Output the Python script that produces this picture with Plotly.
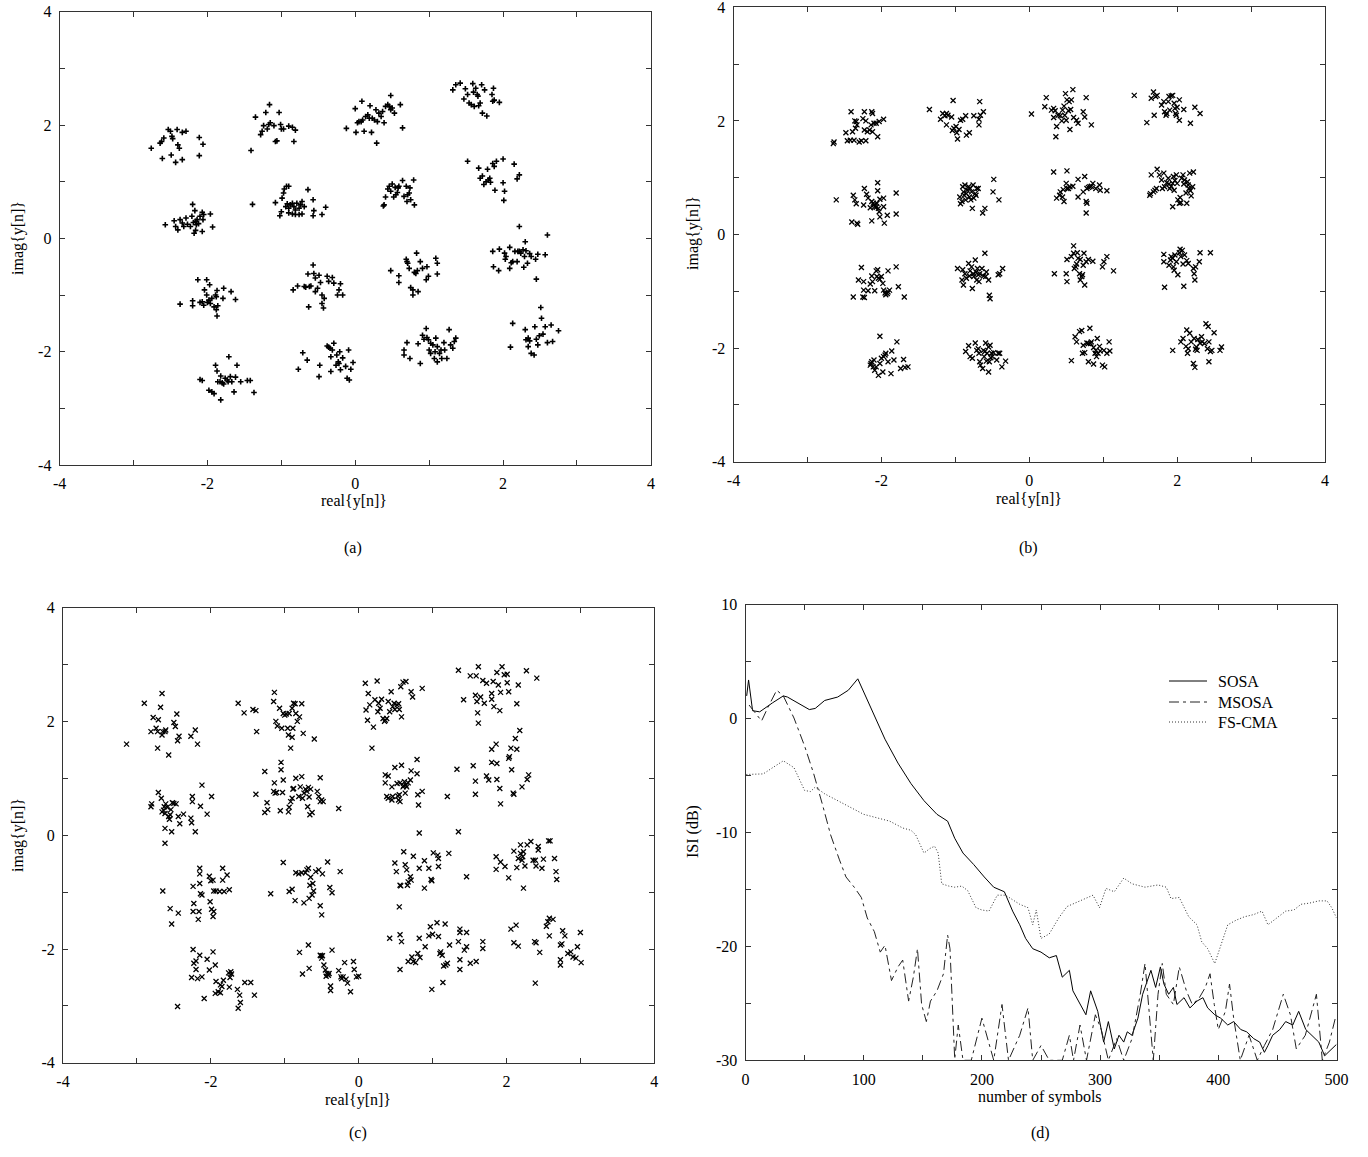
import plotly.graph_objects as go

# ---------------- data ----------------
# panel (a): received constellation points (real, imag)
a_points = [
    (-2.76,1.59),(-2.62,1.71),(-2.59,1.77),(-2.53,1.92),(-2.50,1.89),(-2.48,1.80),(-2.47,1.76),(-2.41,1.92),(-2.40,1.65),(-2.38,1.59),(-2.34,1.87),(-2.29,1.89),(-2.11,1.78),(-2.06,1.66),(-2.11,1.46),(-2.61,1.41),(-2.49,1.47),(-2.43,1.34),(-2.34,1.39),(-2.64,1.68),
    (-1.41,1.55),(-1.35,2.14),(-1.21,2.22),(-1.16,2.36),(-1.03,2.22),(-1.28,1.83),(-1.26,1.89),(-1.24,1.99),(-1.19,1.93),(-1.17,2.01),(-1.15,2.04),(-1.10,1.99),(-1.08,1.71),(-1.06,1.72),(-1.01,2.01),(-1.00,1.93),(-0.97,1.93),(-0.90,1.98),(-0.85,1.96),(-0.83,1.71),(-0.81,1.91),
    (-2.57,0.24),(-2.45,0.31),(-2.43,0.21),(-2.40,0.15),(-2.37,0.33),(-2.34,0.27),(-2.32,0.21),(-2.29,0.36),(-2.27,0.25),(-2.23,0.21),(-2.21,0.39),(-2.20,0.60),(-2.19,0.28),(-2.17,0.49),(-2.16,0.30),(-2.15,0.24),(-2.14,0.33),(-2.12,0.26),(-2.10,0.39),(-2.07,0.46),(-2.06,0.33),(-2.05,0.42),(-1.96,0.43),(-1.93,0.20),(-2.07,0.12),(-2.18,0.09),(-2.16,0.14),
    (-1.39,0.60),(-1.08,0.63),(-1.02,0.40),(-1.00,0.47),(-0.99,0.71),(-0.97,0.80),(-0.96,0.87),(-0.93,0.92),(-0.90,0.92),(-0.94,0.56),(-0.92,0.61),(-0.90,0.53),(-0.88,0.59),(-0.85,0.62),(-0.83,0.56),(-0.81,0.50),(-0.79,0.62),(-0.76,0.53),(-0.74,0.59),(-0.72,0.65),(-0.69,0.56),(-0.72,0.43),(-0.76,0.42),(-0.81,0.42),(-0.85,0.43),(-0.90,0.45),(-0.64,0.86),(-0.57,0.68),(-0.56,0.49),(-0.57,0.40),(-0.45,0.42),(-0.40,0.55),
    (-2.37,-1.16),(-2.20,-1.10),(-2.20,-1.19),(-2.13,-0.73),(-2.10,-1.13),(-2.07,-1.12),(-2.05,-1.18),(-2.04,-0.91),(-2.01,-1.00),(-2.01,-0.73),(-2.00,-1.13),(-1.98,-1.09),(-1.97,-0.82),(-1.96,-1.15),(-1.94,-1.06),(-1.91,-1.21),(-1.89,-1.00),(-1.88,-1.03),(-1.87,-0.92),(-1.87,-1.37),(-1.86,-1.19),(-1.88,-1.26),(-1.79,-1.06),(-1.78,-0.88),(-1.68,-0.94),(-1.62,-1.08),
    (-0.84,-0.91),(-0.78,-0.84),(-0.69,-0.85),(-0.67,-0.86),(-0.64,-0.63),(-0.62,-0.85),(-0.60,-0.84),(-0.57,-0.47),(-0.56,-0.62),(-0.54,-0.70),(-0.54,-0.94),(-0.51,-0.88),(-0.49,-0.65),(-0.47,-0.78),(-0.45,-1.00),(-0.45,-1.15),(-0.43,-1.23),(-0.42,-1.06),(-0.38,-0.67),(-0.36,-0.76),(-0.31,-0.69),(-0.29,-0.79),(-0.22,-0.91),(-0.20,-0.80),(-0.17,-1.00),(-0.24,-1.00),(-0.63,-1.21),
    (-2.10,-2.49),(-2.07,-2.51),(-1.98,-2.68),(-1.94,-2.71),(-1.91,-2.74),(-1.89,-2.24),(-1.87,-2.34),(-1.86,-2.53),(-1.83,-2.53),(-1.82,-2.85),(-1.82,-2.43),(-1.80,-2.55),(-1.78,-2.57),(-1.76,-2.47),(-1.73,-2.50),(-1.72,-2.53),(-1.71,-2.09),(-1.69,-2.44),(-1.67,-2.53),(-1.64,-2.71),(-1.62,-2.45),(-1.60,-2.24),(-1.55,-2.53),(-1.46,-2.51),(-1.42,-2.51),(-1.37,-2.72),
    (-0.77,-2.31),(-0.71,-2.02),(-0.65,-2.15),(-0.49,-2.44),(-0.48,-2.24),(-0.38,-1.90),(-0.36,-1.92),(-0.34,-1.94),(-0.33,-2.09),(-0.31,-1.97),(-0.29,-1.85),(-0.26,-2.24),(-0.25,-2.06),(-0.23,-2.18),(-0.22,-2.21),(-0.21,-2.00),(-0.20,-2.32),(-0.17,-2.11),(-0.13,-2.26),(-0.11,-2.47),(-0.08,-2.50),(-0.09,-1.97),(-0.06,-2.31),(-0.03,-2.19),(-0.33,-2.35),
    (-0.12,1.94),(0.00,2.29),(0.01,1.87),(0.03,2.04),(0.05,2.06),(0.08,2.06),(0.09,2.42),(0.10,2.09),(0.12,1.89),(0.14,2.15),(0.17,2.18),(0.19,2.12),(0.20,2.34),(0.22,1.87),(0.23,2.12),(0.26,2.09),(0.28,2.27),(0.29,1.68),(0.30,2.06),(0.32,2.21),(0.35,2.15),(0.37,2.24),(0.39,2.04),(0.41,2.33),(0.44,2.36),(0.46,2.33),(0.48,2.52),(0.48,2.27),(0.50,2.30),(0.53,2.21),(0.61,2.36),(0.64,1.95),
    (1.32,2.62),(1.36,2.71),(1.42,2.74),(1.47,2.46),(1.49,2.64),(1.52,2.54),(1.54,2.39),(1.57,2.36),(1.59,2.73),(1.60,2.58),(1.61,2.33),(1.63,2.65),(1.65,2.54),(1.66,2.51),(1.67,2.34),(1.69,2.39),(1.71,2.71),(1.72,2.21),(1.75,2.62),(1.78,2.16),(1.85,2.54),(1.87,2.65),(1.86,2.42),(1.88,2.44),(1.95,2.40),
    (0.38,0.57),(0.39,0.59),(0.41,0.73),(0.44,0.87),(0.46,0.92),(0.48,0.83),(0.50,0.96),(0.52,0.73),(0.54,0.90),(0.55,0.77),(0.57,0.81),(0.58,0.89),(0.59,0.92),(0.64,1.02),(0.66,0.74),(0.69,0.92),(0.70,0.65),(0.71,0.77),(0.73,0.80),(0.74,0.89),(0.75,0.68),(0.79,1.03),(0.80,0.59),
    (1.52,1.36),(1.67,1.24),(1.69,1.06),(1.72,1.10),(1.74,0.95),(1.77,1.00),(1.79,1.22),(1.80,1.03),(1.82,1.06),(1.83,0.99),(1.86,1.32),(1.88,1.27),(1.89,0.85),(1.91,1.36),(2.00,1.40),(2.00,0.98),(2.02,0.83),(2.01,0.67),(2.15,1.31),(2.19,1.05),(2.22,1.12),
    (0.48,-0.57),(0.59,-0.66),(0.59,-0.78),(0.69,-0.37),(0.70,-0.41),(0.71,-0.44),(0.73,-0.53),(0.75,-0.87),(0.78,-0.91),(0.78,-1.00),(0.80,-0.60),(0.82,-0.62),(0.83,-0.26),(0.84,-0.57),(0.85,-0.94),(0.88,-0.41),(0.91,-0.53),(0.96,-0.73),(0.97,-0.50),(0.99,-0.67),(1.09,-0.35),(1.11,-0.44),(1.11,-0.63),
    (1.86,-0.23),(1.87,-0.50),(1.94,-0.57),(1.95,-0.19),(2.02,-0.26),(2.03,-0.37),(2.04,-0.32),(2.09,-0.16),(2.09,-0.53),(2.11,-0.43),(2.13,-0.41),(2.16,-0.23),(2.19,-0.41),(2.20,-0.23),(2.22,0.21),(2.22,-0.23),(2.24,-0.26),(2.27,-0.20),(2.28,-0.51),(2.29,-0.32),(2.30,-0.06),(2.31,-0.22),(2.33,-0.44),(2.36,-0.27),(2.38,-0.32),(2.44,-0.37),(2.45,-0.72),(2.47,-0.28),(2.57,-0.29),(2.60,0.06),
    (0.66,-1.97),(0.66,-2.06),(0.70,-1.84),(0.74,-2.12),(0.85,-1.86),(0.88,-2.21),(0.91,-1.71),(0.93,-1.78),(0.96,-1.59),(0.97,-1.75),(0.99,-1.79),(1.00,-1.97),(1.02,-1.85),(1.02,-2.03),(1.05,-1.88),(1.07,-2.12),(1.08,-2.00),(1.09,-1.76),(1.11,-2.18),(1.11,-1.91),(1.14,-2.03),(1.16,-1.97),(1.17,-2.12),(1.20,-1.84),(1.21,-1.97),(1.24,-2.12),(1.27,-1.61),(1.29,-1.88),(1.32,-1.94),(1.34,-1.82),(1.36,-1.76),
    (2.10,-1.92),(2.13,-1.50),(2.30,-1.61),(2.31,-1.79),(2.34,-1.76),(2.34,-1.91),(2.36,-1.81),(2.38,-2.03),(2.42,-2.06),(2.43,-1.56),(2.45,-1.78),(2.47,-1.88),(2.49,-1.72),(2.51,-1.22),(2.52,-1.41),(2.54,-1.69),(2.57,-1.56),(2.60,-1.84),(2.65,-1.53),(2.67,-1.82),(2.75,-1.63),
]

# panel (b)
b_points = [
    (-2.65,1.60),(-2.64,1.63),(-2.48,1.79),(-2.46,1.65),(-2.42,1.66),(-2.41,2.16),(-2.39,1.81),(-2.37,1.66),(-2.36,2.00),(-2.35,1.87),(-2.34,1.99),(-2.33,1.93),(-2.30,1.63),(-2.27,1.65),(-2.25,2.04),(-2.23,1.84),(-2.23,2.16),(-2.21,1.65),(-2.21,2.00),(-2.19,1.81),(-2.16,1.84),(-2.14,1.93),(-2.13,2.16),(-2.12,2.13),(-2.12,1.81),(-2.10,1.96),(-2.07,1.96),(-2.05,1.72),(-2.03,1.99),(-1.97,2.03),
    (-1.35,2.20),(-1.20,2.03),(-1.17,2.13),(-1.14,2.09),(-1.12,2.13),(-1.10,2.10),(-1.05,2.07),(-1.12,1.93),(-1.04,1.83),(-1.02,1.87),(-0.99,1.90),(-0.98,1.79),(-0.97,1.68),(-0.95,1.85),(-0.93,2.01),(-0.90,2.03),(-0.86,2.09),(-0.85,1.75),(-0.81,1.79),(-1.03,2.36),(-0.75,2.09),(-0.68,1.93),(-0.68,2.03),(-0.66,2.10),(-0.62,2.16),(-0.67,2.34),
    (-2.61,0.61),(-2.40,0.22),(-2.38,0.69),(-2.36,0.61),(-2.34,0.54),(-2.33,0.20),(-2.32,0.18),(-2.24,0.52),(-2.23,0.81),(-2.20,0.71),(-2.18,0.64),(-2.15,0.47),(-2.13,0.58),(-2.11,0.55),(-2.10,0.52),(-2.09,0.49),(-2.07,0.48),(-2.06,0.55),(-2.05,0.77),(-2.05,0.91),(-2.04,0.46),(-2.03,0.40),(-2.02,0.31),(-2.02,0.62),(-1.97,0.49),(-1.97,0.64),(-1.96,0.20),(-1.92,0.34),(-1.80,0.73),(-1.80,0.36),(-2.13,0.24),
    (-0.94,0.66),(-0.93,0.54),(-0.91,0.58),(-0.90,0.84),(-0.89,0.75),(-0.88,0.69),(-0.87,0.87),(-0.86,0.61),(-0.85,0.72),(-0.84,0.78),(-0.82,0.84),(-0.81,0.66),(-0.80,0.81),(-0.79,0.61),(-0.78,0.75),(-0.77,0.46),(-0.76,0.87),(-0.75,0.64),(-0.73,0.72),(-0.72,0.69),(-0.71,0.81),(-0.69,0.81),(-0.63,0.38),(-0.60,0.46),(-0.49,0.75),(-0.48,0.97),(-0.41,0.61),
    (-2.38,-1.10),(-2.31,-0.80),(-2.27,-0.58),(-2.25,-1.10),(-2.24,-0.98),(-2.23,-1.11),(-2.18,-0.99),(-2.15,-0.87),(-2.13,-0.73),(-2.12,-0.83),(-2.09,-0.99),(-2.07,-0.64),(-2.06,-0.74),(-2.05,-0.62),(-2.04,-0.77),(-2.02,-0.79),(-2.00,-0.74),(-1.98,-0.86),(-1.97,-0.98),(-1.95,-1.03),(-1.94,-1.06),(-1.92,-1.04),(-1.91,-1.01),(-1.91,-0.64),(-1.89,-0.98),(-1.80,-0.57),(-1.77,-0.92),(-1.69,-1.10),(-2.24,-0.83),
    (-0.97,-0.60),(-0.91,-0.80),(-0.90,-0.62),(-0.89,-0.89),(-0.87,-0.69),(-0.85,-0.77),(-0.82,-0.51),(-0.81,-0.73),(-0.80,-0.64),(-0.78,-0.57),(-0.77,-0.95),(-0.76,-0.69),(-0.75,-0.74),(-0.73,-0.45),(-0.72,-0.66),(-0.71,-0.80),(-0.70,-0.60),(-0.69,-0.71),(-0.68,-0.83),(-0.67,-0.69),(-0.64,-0.60),(-0.62,-0.73),(-0.60,-0.33),(-0.59,-0.74),(-0.58,-0.66),(-0.55,-0.80),(-0.54,-1.07),(-0.53,-1.13),(-0.42,-0.71),(-0.40,-0.69),(-0.36,-0.60),
    (-2.15,-2.30),(-2.14,-2.27),(-2.13,-2.24),(-2.11,-2.33),(-2.10,-2.21),(-2.09,-2.39),(-2.07,-2.33),(-2.04,-2.48),(-2.02,-1.79),(-2.02,-2.27),(-2.00,-2.18),(-1.98,-2.42),(-1.97,-2.15),(-1.95,-2.12),(-1.94,-2.09),(-1.91,-2.24),(-1.87,-2.45),(-1.86,-2.05),(-1.83,-2.21),(-1.79,-1.89),(-1.74,-2.36),(-1.70,-2.20),(-1.68,-2.34),(-1.64,-2.33),
    (-0.86,-2.06),(-0.82,-1.96),(-0.80,-2.15),(-0.77,-2.18),(-0.73,-1.91),(-0.71,-2.04),(-0.69,-2.01),(-0.68,-2.09),(-0.67,-2.24),(-0.66,-2.30),(-0.63,-2.36),(-0.62,-2.04),(-0.61,-2.15),(-0.60,-2.06),(-0.59,-1.91),(-0.58,-2.23),(-0.57,-2.09),(-0.55,-2.42),(-0.55,-1.98),(-0.54,-2.24),(-0.53,-1.95),(-0.52,-2.17),(-0.51,-2.09),(-0.50,-2.15),(-0.48,-2.08),(-0.44,-2.21),(-0.42,-2.09),(-0.40,-2.09),(-0.37,-2.33),(-0.32,-2.23),
    (0.03,2.12),(0.21,2.25),(0.23,2.41),(0.30,2.19),(0.33,2.22),(0.33,2.06),(0.35,2.18),(0.37,1.90),(0.36,1.72),(0.39,2.10),(0.42,2.09),(0.44,2.00),(0.45,2.19),(0.47,2.26),(0.48,2.10),(0.49,2.48),(0.50,2.01),(0.51,2.37),(0.53,2.18),(0.54,2.34),(0.55,1.85),(0.56,2.20),(0.57,2.37),(0.59,2.55),(0.60,2.06),(0.64,2.01),(0.66,1.96),(0.73,2.16),(0.75,2.07),(0.77,2.41),(0.84,1.93),
    (1.42,2.45),(1.59,1.97),(1.65,2.40),(1.68,2.51),(1.69,2.10),(1.71,2.43),(1.73,2.45),(1.79,2.28),(1.82,2.34),(1.83,2.16),(1.85,2.10),(1.86,2.13),(1.88,2.34),(1.89,2.43),(1.90,2.19),(1.92,2.44),(1.94,2.45),(1.96,2.31),(1.97,2.22),(1.98,2.13),(1.99,2.10),(2.00,2.24),(2.03,2.37),(2.03,2.01),(2.09,2.20),(2.18,1.96),(2.24,2.24),(2.31,2.13),
    (0.33,1.10),(0.37,0.64),(0.41,0.69),(0.42,0.75),(0.45,0.66),(0.46,0.79),(0.47,0.58),(0.50,0.90),(0.51,0.81),(0.53,0.81),(0.55,0.84),(0.59,0.85),(0.66,0.97),(0.66,0.66),(0.73,0.75),(0.75,1.02),(0.77,0.58),(0.78,0.81),(0.78,0.55),(0.80,0.83),(0.82,0.84),(0.84,0.85),(0.86,0.90),(0.90,0.81),(0.95,0.87),(0.96,0.78),(1.05,0.77),(0.77,0.38),(0.51,1.12),
    (1.63,0.69),(1.64,0.72),(1.65,1.05),(1.68,0.75),(1.70,0.78),(1.72,0.81),(1.73,1.15),(1.76,1.05),(1.79,0.96),(1.80,0.81),(1.82,1.08),(1.83,0.84),(1.86,0.91),(1.88,0.99),(1.89,0.89),(1.90,0.81),(1.92,0.85),(1.94,0.90),(1.95,1.02),(1.96,0.78),(1.97,0.95),(1.99,1.05),(2.00,0.90),(2.01,0.61),(2.03,0.55),(2.04,0.65),(2.05,0.56),(2.06,0.99),(2.08,1.05),(2.09,0.89),(2.10,0.96),(2.12,0.73),(2.14,0.93),(2.15,0.87),(2.16,0.81),(2.17,1.08),(2.18,0.77),(2.19,0.68),(2.21,0.84),(2.22,1.10),(1.94,0.49),(2.13,0.55),
    (0.34,-0.69),(0.50,-0.69),(0.51,-0.44),(0.51,-0.83),(0.57,-0.39),(0.60,-0.33),(0.60,-0.20),(0.61,-0.60),(0.63,-0.57),(0.64,-0.52),(0.65,-0.32),(0.66,-0.42),(0.68,-0.69),(0.69,-0.80),(0.69,-0.44),(0.71,-0.74),(0.72,-0.71),(0.73,-0.54),(0.74,-0.33),(0.75,-0.89),(0.77,-0.48),(0.80,-0.44),(0.86,-0.47),(0.99,-0.57),(1.01,-0.48),(1.05,-0.39),(1.14,-0.64),
    (1.82,-0.35),(1.82,-0.48),(1.83,-0.93),(1.89,-0.54),(1.91,-0.45),(1.92,-0.39),(1.94,-0.42),(1.95,-0.57),(1.96,-0.63),(1.97,-0.36),(1.99,-0.48),(2.01,-0.71),(2.03,-0.32),(2.04,-0.26),(2.05,-0.39),(2.07,-0.28),(2.08,-0.52),(2.09,-0.91),(2.10,-0.36),(2.13,-0.46),(2.15,-0.51),(2.22,-0.60),(2.23,-0.69),(2.24,-0.80),(2.25,-0.57),(2.30,-0.48),(2.31,-0.32),(2.45,-0.32),
    (0.57,-2.22),(0.62,-1.80),(0.64,-1.89),(0.68,-1.71),(0.71,-1.69),(0.72,-2.09),(0.73,-1.95),(0.75,-2.08),(0.78,-1.91),(0.80,-1.92),(0.82,-1.65),(0.83,-1.92),(0.84,-1.89),(0.87,-1.99),(0.89,-2.09),(0.90,-2.04),(0.91,-2.15),(0.92,-1.83),(0.93,-2.09),(0.95,-1.97),(0.96,-2.05),(0.99,-2.30),(1.01,-2.04),(1.02,-2.33),(1.05,-2.09),(1.08,-1.89),(1.09,-2.05),(0.80,-2.24),(0.87,-2.28),
    (1.94,-2.04),(2.05,-1.89),(2.08,-1.83),(2.12,-1.97),(2.13,-1.68),(2.14,-2.09),(2.15,-2.01),(2.17,-1.74),(2.19,-1.89),(2.22,-2.27),(2.23,-1.83),(2.24,-2.34),(2.25,-2.02),(2.26,-1.98),(2.27,-2.04),(2.28,-1.85),(2.31,-1.91),(2.33,-1.80),(2.34,-1.89),(2.37,-1.92),(2.39,-1.57),(2.41,-2.01),(2.42,-1.62),(2.43,-1.89),(2.45,-2.06),(2.47,-2.04),(2.50,-1.73),(2.43,-2.24),(2.58,-2.04),(2.60,-1.98),
]

# panel (c)
c_points = [
    (-3.14,1.60),(-2.90,2.32),(-2.78,2.07),(-2.74,1.88),(-2.72,1.82),(-2.71,2.03),(-2.68,2.25),(-2.66,2.49),(-2.66,1.76),(-2.65,1.82),(-2.62,1.82),(-2.61,1.85),(-2.57,1.41),(-2.72,1.53),(-2.50,1.98),(-2.48,1.91),(-2.46,2.13),(-2.45,1.66),(-2.43,1.74),(-2.81,1.82),(-2.27,1.74),(-2.21,1.85),(-2.18,1.60),
    (-1.63,2.32),(-1.55,2.15),(-1.43,2.21),(-1.39,2.19),(-1.38,1.82),(-1.15,2.35),(-1.14,2.51),(-1.12,2.00),(-1.10,1.92),(-1.07,2.23),(-1.04,1.88),(-1.02,2.14),(-1.00,2.11),(-0.98,2.13),(-0.96,1.88),(-0.95,1.76),(-0.94,2.14),(-0.90,2.23),(-0.90,1.72),(-0.89,1.88),(-0.88,2.32),(-0.86,2.31),(-0.85,2.14),(-0.83,2.00),(-0.80,2.08),(-0.77,2.31),(-0.75,1.79),(-0.60,1.69),(-0.92,1.53),
    (-2.81,0.50),(-2.80,0.55),(-2.71,0.75),(-2.67,0.65),(-2.66,0.41),(-2.64,0.44),(-2.63,0.50),(-2.62,0.12),(-2.62,0.38),(-2.61,0.55),(-2.59,0.49),(-2.57,0.33),(-2.56,0.28),(-2.55,0.36),(-2.54,0.45),(-2.53,0.06),(-2.52,0.57),(-2.50,0.56),(-2.47,0.55),(-2.44,0.33),(-2.42,0.20),(-2.37,0.37),(-2.27,0.30),(-2.26,0.22),(-2.25,0.68),(-2.25,0.59),(-2.21,0.06),(-2.14,0.51),(-2.12,0.88),(-2.05,0.37),(-1.99,0.68),(-2.62,-0.14),
    (-1.39,0.72),(-1.27,1.12),(-1.24,0.57),(-1.27,0.40),(-1.23,0.45),(-1.15,0.77),(-1.14,0.92),(-1.13,0.74),(-1.11,0.75),(-1.06,0.43),(-1.05,1.28),(-1.05,1.15),(-1.03,0.75),(-1.02,0.97),(-0.95,0.41),(-0.94,0.49),(-0.92,0.59),(-0.90,0.65),(-0.89,0.81),(-0.88,0.82),(-0.85,1.00),(-0.81,0.68),(-0.79,0.85),(-0.77,1.03),(-0.76,0.65),(-0.74,0.74),(-0.72,0.81),(-0.70,0.77),(-0.69,0.50),(-0.68,0.84),(-0.67,0.67),(-0.66,0.36),(-0.65,0.81),(-0.63,0.40),(-0.56,0.77),(-0.54,0.68),(-0.52,0.59),(-0.50,0.62),(-0.48,0.59),(-0.52,1.01),(-0.27,0.47),
    (-2.65,-0.98),(-2.55,-1.29),(-2.53,-1.56),(-2.44,-1.37),(-2.24,-0.90),(-2.24,-1.34),(-2.23,-1.20),(-2.17,-1.48),(-2.16,-1.34),(-2.15,-0.58),(-2.15,-0.68),(-2.15,-0.85),(-2.14,-1.03),(-2.12,-1.05),(-2.02,-0.72),(-2.01,-1.17),(-2.00,-0.80),(-1.99,-1.30),(-1.97,-0.79),(-1.97,-1.43),(-1.96,-1.34),(-1.96,-0.98),(-1.93,-0.98),(-1.88,-0.99),(-1.84,-0.58),(-1.84,-0.79),(-1.82,-0.99),(-1.78,-0.70),(-1.75,-0.96),
    (-1.19,-1.03),(-1.02,-0.48),(-0.94,-0.99),(-0.90,-0.95),(-0.86,-1.15),(-0.85,-0.66),(-0.81,-0.68),(-0.77,-0.66),(-0.74,-1.19),(-0.72,-0.66),(-0.70,-0.61),(-0.68,-0.58),(-0.67,-1.11),(-0.66,-0.88),(-0.65,-0.74),(-0.63,-1.05),(-0.62,-0.85),(-0.61,-0.98),(-0.58,-0.64),(-0.54,-0.61),(-0.52,-1.24),(-0.49,-0.68),(-0.42,-0.47),(-0.39,-0.92),(-0.36,-1.01),(-0.25,-0.64),(-0.50,-1.40),
    (-2.45,-3.01),(-2.26,-2.50),(-2.24,-2.01),(-2.23,-2.25),(-2.20,-2.21),(-2.20,-2.36),(-2.18,-2.52),(-2.15,-2.11),(-2.12,-2.49),(-2.09,-2.87),(-2.05,-2.18),(-2.02,-2.37),(-1.97,-2.05),(-1.94,-2.28),(-1.93,-2.57),(-1.94,-2.78),(-1.90,-2.75),(-1.87,-2.77),(-1.87,-2.63),(-1.85,-2.66),(-1.83,-2.55),(-1.76,-2.42),(-1.75,-2.67),(-1.74,-2.50),(-1.73,-2.40),(-1.72,-2.44),(-1.64,-2.71),(-1.61,-2.81),(-1.60,-2.94),(-1.54,-2.59),(-1.46,-2.59),(-1.41,-2.81),(-1.63,-3.04),
    (-0.80,-2.06),(-0.76,-2.44),(-0.68,-1.93),(-0.67,-2.34),(-0.52,-2.11),(-0.51,-2.12),(-0.50,-2.16),(-0.49,-2.12),(-0.47,-2.28),(-0.45,-2.37),(-0.44,-2.48),(-0.43,-2.43),(-0.41,-2.46),(-0.40,-2.43),(-0.38,-2.65),(-0.38,-2.73),(-0.36,-2.02),(-0.27,-2.38),(-0.24,-2.49),(-0.23,-2.52),(-0.21,-2.49),(-0.19,-2.24),(-0.17,-2.53),(-0.15,-2.60),(-0.11,-2.75),(-0.07,-2.22),(-0.06,-2.36),(-0.03,-2.49),(0.00,-2.48),
    (0.09,2.67),(0.10,2.20),(0.12,2.02),(0.13,2.49),(0.15,2.29),(0.20,1.90),(0.22,2.38),(0.25,2.71),(0.26,2.17),(0.27,2.32),(0.29,2.23),(0.31,2.39),(0.33,2.05),(0.35,2.00),(0.36,2.02),(0.38,2.05),(0.40,2.35),(0.42,2.17),(0.44,2.52),(0.46,2.26),(0.48,2.32),(0.49,2.21),(0.52,2.29),(0.54,2.31),(0.55,2.21),(0.57,2.61),(0.58,2.08),(0.60,2.69),(0.64,2.70),(0.71,2.52),(0.73,2.43),(0.86,2.58),(0.18,1.53),
    (1.35,2.90),(1.42,2.38),(1.51,2.80),(1.58,2.46),(1.59,2.80),(1.60,2.35),(1.61,2.15),(1.62,2.96),(1.62,1.97),(1.65,2.43),(1.68,2.72),(1.70,2.32),(1.73,2.67),(1.80,2.49),(1.80,2.39),(1.82,2.70),(1.83,2.26),(1.87,2.86),(1.89,2.64),(1.91,2.19),(1.92,2.51),(1.94,2.96),(1.97,2.82),(2.01,2.83),(2.01,2.68),(2.03,2.52),(2.14,2.31),(2.16,2.64),(2.27,2.89),(2.41,2.76),
    (0.36,1.06),(0.36,0.92),(0.40,1.04),(0.45,0.85),(0.38,0.68),(0.40,0.65),(0.45,0.62),(0.46,0.68),(0.49,1.19),(0.52,0.91),(0.53,0.69),(0.54,0.62),(0.55,0.71),(0.56,0.92),(0.56,0.59),(0.58,1.23),(0.60,0.85),(0.61,0.87),(0.62,0.94),(0.63,0.74),(0.64,0.88),(0.65,0.85),(0.67,0.92),(0.70,0.97),(0.71,1.13),(0.79,1.33),(0.79,1.08),(0.80,0.71),(0.81,0.53),(0.86,0.77),(1.20,0.68),
    (1.33,1.16),(1.55,1.22),(1.58,0.95),(1.58,0.72),(1.73,1.04),(1.76,0.97),(1.80,1.51),(1.80,1.28),(1.86,1.60),(1.87,1.26),(1.87,0.98),(1.91,0.82),(2.03,1.35),(2.04,1.38),(2.06,1.53),(2.07,1.15),(2.09,0.74),(2.10,0.72),(2.12,1.70),(2.14,1.51),(2.18,1.84),(2.21,0.85),(2.28,0.98),(2.30,1.06),(1.92,0.55),
    (0.49,-0.49),(0.51,-0.64),(0.55,-1.26),(0.56,-0.88),(0.57,-0.89),(0.61,-0.29),(0.63,-0.52),(0.65,-0.61),(0.66,-0.88),(0.67,-0.82),(0.70,-0.73),(0.71,-0.79),(0.74,-0.37),(0.82,-0.58),(0.89,-0.45),(0.89,-0.93),(0.95,-0.58),(0.98,-0.78),(0.99,-0.80),(1.01,-0.31),(1.07,-0.35),(1.08,-0.41),(1.08,-0.55),(1.22,-0.32),(1.46,-0.73),(0.82,0.04),(1.35,0.06),
    (1.86,-0.38),(1.86,-0.60),(1.92,-0.47),(1.98,-0.55),(2.03,-0.75),(2.10,-0.28),(2.14,-0.57),(2.16,-0.41),(2.19,-0.17),(2.19,-0.32),(2.21,-0.44),(2.22,-0.38),(2.23,-0.29),(2.25,-0.54),(2.28,-0.17),(2.33,-0.11),(2.36,-0.44),(2.39,-0.44),(2.40,-0.54),(2.43,-0.20),(2.43,-0.26),(2.48,-0.58),(2.50,-0.42),(2.57,-0.10),(2.59,-0.10),(2.65,-0.41),(2.67,-0.64),(2.68,-0.78),(2.23,-0.93),
    (0.42,-1.81),(0.56,-1.75),(0.58,-1.87),(0.56,-2.36),(0.67,-2.22),(0.72,-2.14),(0.74,-2.22),(0.77,-2.24),(0.80,-2.08),(0.82,-1.81),(0.83,-2.15),(0.90,-1.96),(0.95,-1.77),(0.97,-1.61),(1.00,-1.74),(1.06,-1.54),(1.08,-1.78),(1.10,-2.08),(1.11,-2.05),(1.13,-2.11),(1.15,-2.30),(1.17,-1.56),(1.18,-2.28),(1.20,-2.25),(1.23,-1.93),(0.99,-2.71),(1.14,-2.59),(1.35,-1.87),(1.37,-1.65),(1.37,-1.71),(1.37,-2.19),(1.37,-2.36),(1.43,-2.02),(1.46,-1.71),(1.46,-1.96),(1.51,-2.25),(1.59,-2.22),(1.68,-1.87),(1.68,-1.99),
    (2.06,-1.65),(2.13,-1.58),(2.10,-1.89),(2.16,-1.95),(2.38,-1.87),(2.40,-1.89),(2.45,-2.06),(2.54,-1.60),(2.56,-1.52),(2.58,-1.46),(2.63,-1.48),(2.58,-1.77),(2.73,-1.93),(2.75,-1.91),(2.76,-1.68),(2.79,-1.77),(2.73,-2.19),(2.73,-2.28),(2.83,-2.08),(2.87,-2.05),(2.90,-2.14),(2.94,-2.16),(2.96,-1.96),(3.01,-2.24),(3.00,-1.71),(2.39,-2.60),
]

# panel (d): ISI (dB) vs number of symbols
sosa_curve = [
    (1,2.0),(2.6,3.4),(6,0.7),(12,0.6),(23,1.4),(32,2.0),(35.5,1.9),(45,1.3),(54,0.8),(59,0.9),(67,1.6),(78,1.9),(87,2.5),(95,3.5),
    (107,0.7),(118,-1.8),(129,-3.9),(140,-5.7),(151,-7.2),(162,-8.4),(171,-9.0),(177,-10.5),(184,-11.8),(193,-12.8),(202,-13.9),
    (210,-14.8),(219,-15.2),(226,-16.9),(232,-18.1),(237,-19.3),(243,-20.2),(250,-20.5),(257,-21.0),(263,-20.8),(268,-22.7),
    (274,-22.1),(277,-23.9),(283,-25.1),(288,-26.0),(292,-23.9),(298,-25.7),(303,-28.4),(307,-26.6),(312,-29.0),(316,-27.8),
    (320,-28.4),(323,-27.5),(327,-27.8),(332,-26.3),(336,-24.2),(340,-23.0),(343,-22.1),(347,-23.6),(351,-21.8),(354,-23.3),
    (358,-24.2),(362,-23.6),(365,-25.1),(371,-24.5),(376,-25.4),(382,-24.8),(387,-24.5),(391,-25.4),(397,-26.0),(402,-26.3),
    (408,-26.9),(413,-26.6),(419,-27.3),(424,-27.5),(430,-28.1),(435,-28.4),(439,-29.3),(442,-28.7),(446,-27.8),(452,-27.3),
    (457,-26.6),(463,-26.9),(468,-25.7),(474,-27.3),(479,-27.8),(485,-28.4),(490,-29.6),(496,-29.0),(500,-28.6),
]
msosa_curve = [
    (3,1.2),(8,0.5),(13.6,-0.2),(19,1.0),(26.4,2.5),(32,2.0),(41,0.06),(50,-2.4),(57.6,-4.8),(65,-7.5),(72,-10.2),(79.5,-12.4),
    (85,-13.9),(92,-14.8),(98,-15.7),(103,-17.5),(109,-18.7),(114,-20.5),(118,-19.9),(123.5,-23.0),(129,-21.8),(133,-21.2),
    (138,-24.8),(142,-22.7),(145.5,-20.2),(149,-25.1),(153,-26.6),(156.5,-24.8),(162,-23.9),(167.5,-22.4),(171,-19.0),(173,-20.2),
    (177,-29.9),(180,-26.9),(184,-30),(191,-30),(200,-26.3),(210,-30),(217,-25.1),(222.5,-30),(232,-27.8),(239,-25.4),(243,-30),
    (250,-28.7),(257,-30),(268,-30),(274,-27.8),(277.5,-30),(283,-26.9),(288.5,-30),(296,-26.0),(301,-27.3),(307,-30),(314,-28.1),
    (320,-30),(327,-28.1),(334,-24.2),(338,-21.5),(341.6,-25.7),(345,-30),(349,-24.2),(352.6,-21.5),(356,-24.2),(362,-25.1),
    (367,-21.8),(373,-23.9),(378,-25.1),(384,-24.5),(389,-23.6),(393,-22.4),(396.6,-25.1),(400,-27.3),(406,-25.7),(409.5,-23.3),
    (413,-26.3),(418.6,-30),(426,-27.8),(433,-30),(439,-28.7),(446,-27.3),(455,-24.2),(461,-26.0),(466,-29.0),(473.6,-27.8),
    (483,-24.2),(488,-30),(494,-28.4),(499,-26.3),
]
fscma_curve = [
    (0.7,-4.9),(8,-4.9),(15,-4.85),(23,-4.3),(32,-3.7),(41,-4.3),(50,-6.3),(55,-6.4),(59,-6.0),(67,-6.6),(78,-7.2),(89,-7.8),
    (100,-8.4),(111,-8.7),(122,-9.0),(133,-9.6),(140,-9.8),(144,-10.2),(151,-11.8),(156,-11.4),(160,-11.2),(163,-11.8),(166,-14.5),
    (172,-14.7),(177,-14.8),(183,-14.7),(188,-15.1),(195,-16.6),(200,-16.8),(206,-16.9),(213,-15.5),(220,-15.5),(226,-15.9),
    (232,-16.3),(239,-16.6),(243,-18.1),(246,-16.8),(250,-19.3),(257,-18.9),(265,-17.5),(272,-16.5),(279,-16.2),(287,-15.8),
    (294,-15.5),(299.5,-16.6),(305,-14.9),(312,-15.2),(320,-14.0),(327,-14.5),(338,-14.8),(349,-14.6),(356,-14.8),(360,-15.8),
    (367,-15.7),(375,-17.4),(382,-18.1),(386,-19.6),(391,-20.2),(397,-21.5),(402,-19.9),(408,-18.1),(415,-17.7),(422,-17.4),
    (430,-17.2),(437,-16.9),(442,-18.1),(450,-17.5),(457,-16.9),(464,-16.8),(470,-16.3),(477,-16.2),(485,-16.0),(492,-16.0),
    (496,-16.6),(500,-17.5),
]
series_names = ["SOSA", "MSOSA", "FS-CMA"]

const_ticks = [-4, -3, -2, -1, 0, 1, 2, 3, 4]
const_ticktext = ["-4", "", "-2", "", "0", "", "2", "", "4"]
isi_xticks = [0, 50, 100, 150, 200, 250, 300, 350, 400, 450, 500]
isi_xtext = ["0", "", "100", "", "200", "", "300", "", "400", "", "500"]
isi_yticks = [-30, -25, -20, -15, -10, -5, 0, 5, 10]
isi_ytext = ["-30", "", "-20", "", "-10", "", "0", "", "10"]

# ---------------- layout helpers ----------------
W, H = 1368, 1157
FONT = "Liberation Serif"


def clamp(v):
    return max(0.0, min(1.0, v))


def fx(p):
    return p / W


def fy(p):
    return 1 - p / H


def unzip(pts):
    return [p[0] for p in pts], [p[1] for p in pts]


fig = go.Figure()

panels = [
    (a_points, "x", "y", "cross-thin", 1.6, 4),
    (b_points, "x2", "y2", "x-thin", 1.3, 5),
    (c_points, "x3", "y3", "x-thin", 1.3, 5),
]
for pts, xa, ya, sym, lw, sz in panels:
    xs, ys = unzip(pts)
    fig.add_trace(go.Scatter(
        x=xs, y=ys, mode="markers", xaxis=xa, yaxis=ya, showlegend=False,
        marker=dict(symbol=sym, size=sz, color="black", line=dict(color="black", width=lw)),
    ))

line_styles = [
    dict(color="black", width=1, dash="solid"),
    dict(color="#222222", width=1, dash="10px,4px,3px,4px"),
    dict(color="#333333", width=1, dash="1px,2px"),
]
for label, curve, style in zip(series_names, [sosa_curve, msosa_curve, fscma_curve], line_styles):
    xs, ys = unzip(curve)
    fig.add_trace(go.Scatter(
        x=xs, y=ys, mode="lines", name=label, xaxis="x4", yaxis="y4",
        line=style, showlegend=False,
    ))

axis_common = dict(
    showgrid=False, zeroline=False, showline=True, mirror="ticks", automargin=False,
    linecolor="#333333", linewidth=1, ticks="inside", ticklen=5, tickcolor="#333333",
    tickfont=dict(family=FONT, size=16, color="black"), ticklabelstandoff=4,
    ticklabeloverflow="allow", fixedrange=True,
)

# reference-pixel boxes of the four plot areas: (left, right, top, bottom)
boxes = {
    "1": (59.6, 650.9, 11.7, 465.0),
    "2": (733.5, 1325.0, 7.3, 461.7),
    "3": (63.0, 654.3, 607.6, 1062.8),
    "4": (745.5, 1336.5, 604.8, 1060.3),
}

layout = dict(
    width=W, height=H, autosize=False,
    margin=dict(l=0, r=0, t=0, b=0, autoexpand=False),
    paper_bgcolor="white", plot_bgcolor="white",
    font=dict(family=FONT, size=16, color="black"),
    showlegend=False,
)
for k, (l, r, t, b) in boxes.items():
    xk = "xaxis" if k == "1" else f"xaxis{k}"
    yk = "yaxis" if k == "1" else f"yaxis{k}"
    xa = dict(axis_common, domain=[clamp(fx(l)), clamp(fx(r))], anchor=("y" if k == "1" else f"y{k}"))
    ya = dict(axis_common, domain=[clamp(fy(b)), clamp(fy(t))], anchor=("x" if k == "1" else f"x{k}"))
    if k == "4":
        xa.update(range=[0, 500], tickvals=isi_xticks, ticktext=isi_xtext)
        ya.update(range=[-30, 10], tickvals=isi_yticks, ticktext=isi_ytext)
    else:
        xa.update(range=[-4, 4], tickvals=const_ticks, ticktext=const_ticktext)
        ya.update(range=[-4, 4], tickvals=const_ticks, ticktext=const_ticktext)
    layout[xk] = xa
    layout[yk] = ya

fig.update_layout(**layout)

# legend of panel (d): line samples + labels
legend_rows = [681, 702, 722]
for name, style, ry in zip(series_names, line_styles, legend_rows):
    fig.add_shape(
        type="line", xref="paper", yref="paper",
        x0=fx(1169), x1=fx(1207), y0=fy(ry), y1=fy(ry),
        line=style,
    )
    fig.add_annotation(
        text=name, x=fx(1216), y=fy(ry), xref="paper", yref="paper",
        xanchor="left", yanchor="middle", showarrow=False,
        font=dict(family=FONT, size=16, color="black"),
    )

annotations = [
    ("real{y[n]}", 354, 501, 0), ("imag{y[n]}", 18, 238, -90), ("(a)", 353, 548, 0),
    ("real{y[n]}", 1029, 499, 0), ("imag{y[n]}", 693, 233, -90), ("(b)", 1028, 548, 0),
    ("real{y[n]}", 358, 1100, 0), ("imag{y[n]}", 18, 835, -90), ("(c)", 358, 1133, 0),
    ("number of symbols", 1040, 1097, 0), ("ISI (dB)", 693, 832, -90), ("(d)", 1040, 1133, 0),
]
for text, x, y, ang in annotations:
    fig.add_annotation(
        text=text, x=fx(x), y=fy(y), xref="paper", yref="paper",
        xanchor="center", yanchor="middle", showarrow=False, textangle=ang,
        font=dict(family=FONT, size=16, color="black"),
    )

# remove the browser's default page margin so the figure fills the window exactly
fig.write_html(
    "out.html",
    config={"displayModeBar": False, "staticPlot": True},
    post_script="document.body.style.margin='0px';",
)
